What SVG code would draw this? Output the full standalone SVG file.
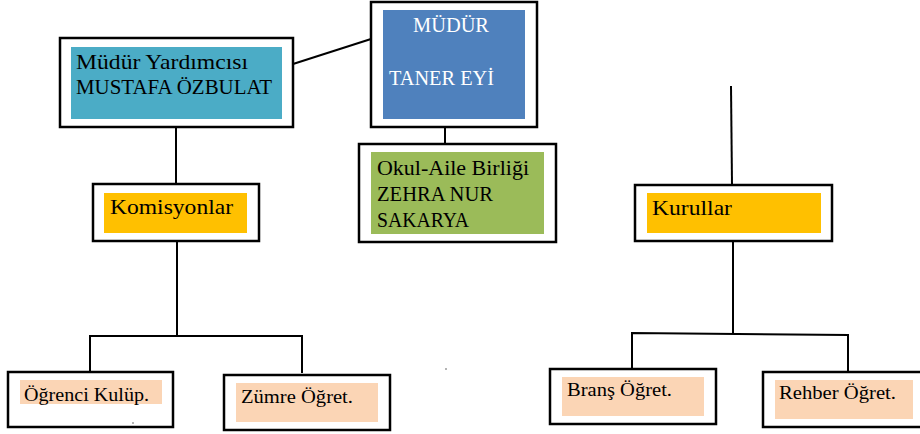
<svg xmlns="http://www.w3.org/2000/svg" width="920" height="434" viewBox="0 0 920 434">
<style>
.box{fill:#fff;stroke:#000;stroke-width:2.5}
.t{font-family:"Liberation Serif","DejaVu Serif",serif;font-size:21px;fill:#000}
.s{font-size:19.5px}
.w{fill:#fff}
.ln{stroke:#000;stroke-width:2;fill:none}
.peach{fill:#FBD5B5}
.orange{fill:#FFC000}
</style>
<rect width="920" height="434" fill="#fff"/>
<g id="connectors">
<line class="ln" x1="293" y1="64" x2="371" y2="39"/>
<line class="ln" x1="445" y1="76" x2="445" y2="144"/>
<line class="ln" x1="176" y1="127" x2="176" y2="184"/>
<line class="ln" x1="177" y1="241" x2="177" y2="336"/>
<polyline class="ln" points="90,372 90,336 302,336 302,373"/>
<line class="ln" x1="731" y1="86" x2="732" y2="185"/>
<line class="ln" x1="733" y1="241" x2="733" y2="334"/>
<polyline class="ln" points="632,369 632,333 848,335 848,372"/>
</g>
<g id="mudur-yardimcisi">
<rect class="box" x="60" y="38" width="233" height="89"/>
<rect x="71" y="47" width="211" height="72" fill="#4BACC6"/>
<text class="t" x="76" y="69" textLength="172" lengthAdjust="spacingAndGlyphs">Müdür Yardımcısı</text>
<text class="t" x="76" y="94" textLength="196" lengthAdjust="spacingAndGlyphs">MUSTAFA ÖZBULAT</text>
</g>
<g id="mudur">
<rect class="box" x="371" y="2" width="166" height="125"/>
<rect x="383" y="10" width="142" height="109" fill="#4F81BD"/>
<text class="t w" x="413" y="32" textLength="76" lengthAdjust="spacingAndGlyphs">MÜDÜR</text>
<text class="t w" x="389" y="85" textLength="105" lengthAdjust="spacingAndGlyphs">TANER EYİ</text>
</g>
<g id="okul-aile">
<rect class="box" x="359" y="144" width="197" height="98"/>
<rect x="371" y="152" width="173" height="82" fill="#9BBB59"/>
<text class="t" x="377" y="175" textLength="152" lengthAdjust="spacingAndGlyphs">Okul-Aile Birliği</text>
<text class="t" x="377" y="201" textLength="116" lengthAdjust="spacingAndGlyphs">ZEHRA NUR</text>
<text class="t" x="377" y="227" textLength="92" lengthAdjust="spacingAndGlyphs">SAKARYA</text>
</g>
<g id="komisyonlar">
<rect class="box" x="93" y="184" width="166" height="57"/>
<rect class="orange" x="104" y="193" width="143" height="40"/>
<text class="t" x="110" y="214" textLength="123" lengthAdjust="spacingAndGlyphs">Komisyonlar</text>
</g>
<g id="kurullar">
<rect class="box" x="635" y="185" width="197" height="56"/>
<rect class="orange" x="647" y="193" width="174" height="40"/>
<text class="t" x="652" y="215" textLength="80" lengthAdjust="spacingAndGlyphs">Kurullar</text>
</g>
<g id="ogrenci-kulup">
<rect class="box" x="8" y="372" width="165" height="55"/>
<rect class="peach" x="20" y="380" width="142" height="24"/>
<text class="t s" x="24" y="401" textLength="125" lengthAdjust="spacingAndGlyphs">Öğrenci Kulüp.</text>
</g>
<g id="zumre-ogret">
<rect class="box" x="224" y="375" width="166" height="55"/>
<rect class="peach" x="236" y="383" width="142" height="39"/>
<text class="t s" x="241" y="403" textLength="112" lengthAdjust="spacingAndGlyphs">Zümre Öğret.</text>
</g>
<g id="brans-ogret">
<rect class="box" x="550" y="369" width="166" height="55"/>
<rect class="peach" x="562" y="377" width="142" height="39"/>
<text class="t s" x="567" y="396" textLength="105" lengthAdjust="spacingAndGlyphs">Branş Öğret.</text>
</g>
<g id="rehber-ogret">
<rect class="box" x="763" y="372" width="160" height="55"/>
<rect class="peach" x="775" y="380" width="138" height="39"/>
<text class="t s" x="779" y="399" textLength="117" lengthAdjust="spacingAndGlyphs">Rehber Öğret.</text>
</g>
<circle cx="446" cy="369" r="0.8" fill="#555"/>
<circle cx="133" cy="423" r="0.8" fill="#555"/>
</svg>
